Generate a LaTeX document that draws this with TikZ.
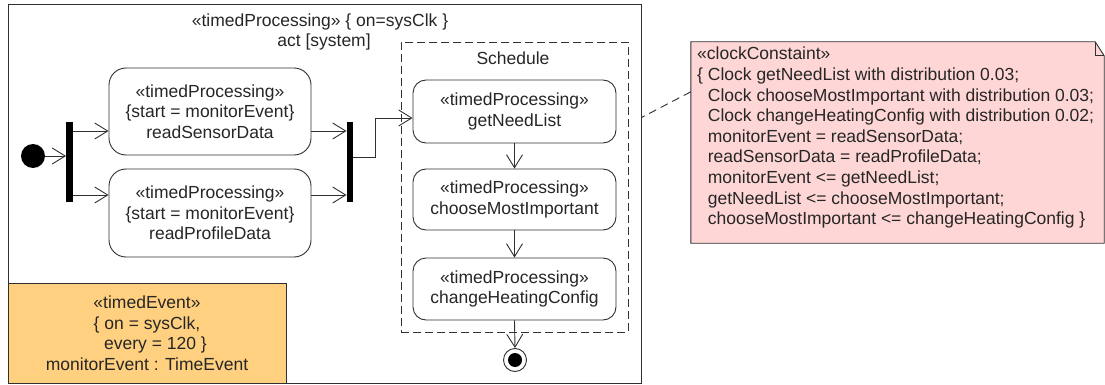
\documentclass[tikz,border=0pt]{standalone}
\usepackage{fontspec}
\setmainfont{Liberation Sans}
\usetikzlibrary{arrows.meta,calc}
\definecolor{lineC}{HTML}{303030}
\definecolor{orangeF}{HTML}{FFD07F}
\definecolor{pinkF}{HTML}{FFD6D6}
\tikzset{
  every node/.style={font=\fontsize{17.5}{20.5}\selectfont, text=black!85},
  act/.style={draw=lineC, line width=0.9pt, rounded corners=17pt, align=center, fill=white, inner sep=0pt},
  sact/.style={draw=lineC, line width=0.9pt, rounded corners=13pt, align=center, fill=white, inner sep=0pt, minimum width=203pt},
  forkbar/.style={fill=black, draw=none, minimum width=6.5pt, minimum height=80pt, inner sep=0pt},
  flow/.style={draw=lineC, line width=0.9pt, -{Straight Barb[length=13pt,width=16pt,line width=0.9pt]}},
}
\begin{document}
\begin{tikzpicture}[x=1pt,y=-1pt]
\useasboundingbox (0,0) rectangle (1105,385);
% outer frame
\node[draw=lineC, line width=0.9pt, minimum width=633pt, minimum height=379pt, inner sep=0pt] (frame) at (324.5,193.5) {};
\node (title1) at (320,22) {«timedProcessing» \{ on=sysClk \}};
\node (title2) at (324,42) {act [system]};
% schedule region
\node[draw=lineC, line width=0.9pt, dashed, dash pattern=on 8pt off 4pt, minimum width=227pt, minimum height=290pt, inner sep=0pt] (sched) at (514.5,187) {};
\node (schedlbl) at (513,58) {Schedule};
% initial
\node[circle, fill=black, minimum size=24pt, inner sep=0pt] (init) at (33,156) {};
% fork / join bars
\node[forkbar] (f1) at (69.5,162) {};
\node[forkbar] (f2) at (350,162) {};
% actions
\node[act, minimum width=202pt, minimum height=87pt] (rsd) at (210,111.5) {«timedProcessing»\\\{start = monitorEvent\}\\readSensorData};
\node[act, minimum width=202pt, minimum height=88pt] (rpd) at (210,213) {«timedProcessing»\\\{start = monitorEvent\}\\readProfileData};
\node[sact, minimum height=63pt] (gnl) at (514.5,111.5) {«timedProcessing»\\getNeedList};
\node[sact, minimum height=61pt] (cmi) at (514.5,199.5) {«timedProcessing»\\chooseMostImportant};
\node[sact, minimum height=62pt] (chc) at (514.5,289) {«timedProcessing»\\changeHeatingConfig};
% final
\node[circle, draw=lineC, line width=0.9pt, fill=white, minimum size=23pt, inner sep=0pt] (fin) at (515,360) {};
\fill[black] (fin.center) circle (7pt);
% flows
\draw[flow] (init.east) -- (init.east -| f1.west);
\draw[flow] (f1.east |- 0,131) -- (rsd.west |- 0,131);
\draw[flow] (f1.east |- 0,195) -- (rpd.west |- 0,195);
\draw[flow] (rsd.east |- 0,131) -- (f2.west |- 0,131);
\draw[flow] (rpd.east |- 0,195) -- (f2.west |- 0,195);
\draw[flow] (f2.east |- 0,157) -- (375,157) -- (375,118) -- (gnl.west |- 0,118);
\draw[flow] (gnl.south) -- (cmi.north);
\draw[flow] (cmi.south) -- (chc.north);
\draw[flow] (chc.south) -- (fin.north);
% timed event
\node[draw=lineC, line width=0.9pt, fill=orangeF, minimum width=278pt, minimum height=100pt, inner sep=0pt, align=center] (tev) at (147,333) {«timedEvent»\\\{ on = sysClk,\\\hspace*{17pt}every = 120 \}\\monitorEvent : TimeEvent};
% note
\node[minimum width=413pt, minimum height=201pt, inner sep=0pt] (note) at (897.5,142.5) {};
\fill[pinkF, draw=lineC, line width=0.9pt] (note.north west) -- ([xshift=-9pt]note.north east) -- ([yshift=-14pt]note.north east) -- (note.south east) -- (note.south west) -- cycle;
\draw[lineC, line width=0.9pt] ([xshift=-9pt]note.north east) -- ([xshift=-9pt,yshift=-14pt]note.north east) -- ([yshift=-14pt]note.north east);
\node[anchor=north west, align=left, inner sep=0pt, font=\fontsize{17.5}{20.6}\selectfont] (notetext) at (697,47) {«clockConstaint»\\\{ Clock getNeedList with distribution 0.03;\\\phantom{\{ }Clock chooseMostImportant with distribution 0.03;\\\phantom{\{ }Clock changeHeatingConfig with distribution 0.02;\\\phantom{\{ }monitorEvent = readSensorData;\\\phantom{\{ }readSensorData = readProfileData;\\\phantom{\{ }monitorEvent <= getNeedList;\\\phantom{\{ }getNeedList <= chooseMostImportant;\\\phantom{\{ }chooseMostImportant <= changeHeatingConfig \}};
\draw[lineC, line width=0.9pt, dashed, dash pattern=on 8pt off 5pt] ([yshift=-50pt]note.north west) -- ([yshift=-114pt]frame.north east);
\end{tikzpicture}
\end{document}
